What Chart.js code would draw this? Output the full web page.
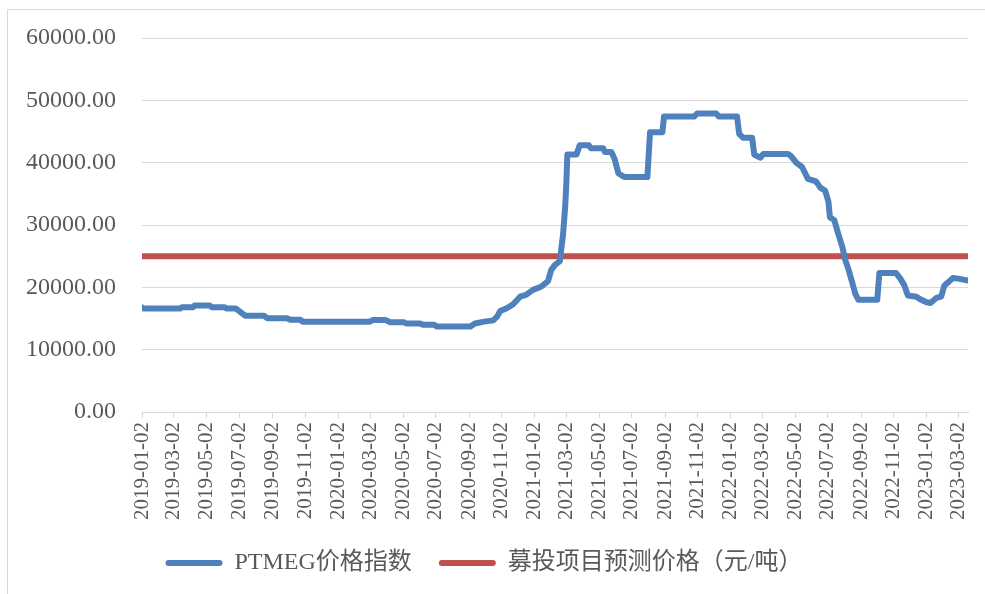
<!DOCTYPE html>
<html>
<head>
<meta charset="utf-8">
<title>PTMEG价格指数</title>
<script src="https://cdn.jsdelivr.net/npm/chart.js@4/dist/chart.umd.min.js"></script>
<style>
  body { margin: 0; background: #ffffff; }
  #chart { display: block; }
</style>
</head>
<body>
<canvas id="chart" width="985" height="594"></canvas>
<script>
'use strict'

// ************* Data ****************
let priceDates = [
  '2019-01-02', '2019-01-06', '2019-03-14', '2019-03-17', '2019-04-07', '2019-04-10',
  '2019-05-08', '2019-05-12', '2019-06-05', '2019-06-09', '2019-06-26', '2019-07-13',
  '2019-08-17', '2019-08-23', '2019-09-29', '2019-10-05', '2019-10-24', '2019-10-28',
  '2020-03-01', '2020-03-07', '2020-03-31', '2020-04-08', '2020-05-04', '2020-05-08',
  '2020-06-03', '2020-06-08', '2020-06-29', '2020-07-04', '2020-09-04', '2020-09-13',
  '2020-09-30', '2020-10-17', '2020-10-24', '2020-10-30', '2020-11-12', '2020-11-23',
  '2020-12-06', '2020-12-17', '2020-12-30', '2021-01-14', '2021-01-27', '2021-02-02',
  '2021-02-09', '2021-02-18', '2021-02-24', '2021-02-28', '2021-03-02', '2021-03-04',
  '2021-03-21', '2021-03-27', '2021-04-13', '2021-04-17', '2021-05-10', '2021-05-13',
  '2021-05-25', '2021-05-31', '2021-06-07', '2021-06-18', '2021-07-31', '2021-08-05',
  '2021-08-28', '2021-08-31', '2021-10-26', '2021-11-01', '2021-12-06', '2021-12-11',
  '2022-01-14', '2022-01-18', '2022-01-25', '2022-02-11', '2022-02-15', '2022-02-26',
  '2022-03-04', '2022-04-19', '2022-04-25', '2022-05-04', '2022-05-15', '2022-05-26',
  '2022-06-10', '2022-06-18', '2022-06-27', '2022-07-03', '2022-07-06', '2022-07-14',
  '2022-07-21', '2022-07-29', '2022-08-03', '2022-08-09', '2022-08-16', '2022-08-22',
  '2022-08-28', '2022-10-02', '2022-10-06', '2022-11-06', '2022-11-14', '2022-11-21',
  '2022-11-28', '2022-12-14', '2022-12-21', '2023-01-02', '2023-01-09', '2023-01-20',
  '2023-01-29', '2023-02-04', '2023-02-11', '2023-02-20', '2023-03-02', '2023-03-20'
];

let priceValues = [
  16800, 16600, 16600, 16800, 16800, 17100,
  17100, 16800, 16800, 16600, 16600, 15450,
  15450, 15050, 15050, 14800, 14800, 14500,
  14500, 14750, 14750, 14400, 14400, 14200,
  14200, 14000, 14000, 13700, 13700, 14200,
  14500, 14700, 15300, 16200, 16700, 17300,
  18500, 18800, 19600, 20100, 21000, 22800,
  23600, 24200, 28500, 33000, 36500, 41300,
  41300, 42800, 42800, 42300, 42300, 41700,
  41700, 40600, 38300, 37700, 37700, 44900,
  44900, 47400, 47400, 47900, 47900, 47400,
  47400, 44600, 44000, 44000, 41300, 40800,
  41400, 41400, 41000, 40000, 39300, 37400,
  37000, 36000, 35500, 33800, 31200, 30800,
  28700, 26500, 24500, 23000, 20900, 19000,
  18000, 18000, 22300, 22300, 21400, 20400,
  18700, 18500, 18100, 17600, 17500, 18300,
  18500, 20300, 20800, 21500, 21400, 21100
];

let forecastDates = ['2019-01-02', '2023-03-20'];
let forecastValues = [25000, 25000];

let tickDates = [
  '2019-01-02', '2019-03-02', '2019-05-02', '2019-07-02', '2019-09-02', '2019-11-02',
  '2020-01-02', '2020-03-02', '2020-05-02', '2020-07-02', '2020-09-02', '2020-11-02',
  '2021-01-02', '2021-03-02', '2021-05-02', '2021-07-02', '2021-09-02', '2021-11-02',
  '2022-01-02', '2022-03-02', '2022-05-02', '2022-07-02', '2022-09-02', '2022-11-02',
  '2023-01-02', '2023-03-02'
];

let yTicks = [0, 10000, 20000, 30000, 40000, 50000, 60000];

let seriesNames = ['PTMEG价格指数', '募投项目预测价格（元/吨）'];


// ************ Helper Functions **********
let startTime = Date.UTC(2019, 0, 2);

function dayOf(str) {
  let parts = str.split('-');
  let t = Date.UTC(+parts[0], +parts[1] - 1, +parts[2]);
  return Math.round((t - startTime) / 86400000);
}

function toPoints(dates, values) {
  let pts = [];
  for (let i = 0; i < dates.length; i++) {
    pts.push({ x: dayOf(dates[i]), y: values[i] });
  }
  return pts;
}

let tickDays = tickDates.map(dayOf);

// frame round the whole picture
let framePlugin = {
  id: 'frame',
  beforeDraw(chart) {
    let ctx = chart.ctx;
    ctx.save();
    ctx.fillStyle = '#ffffff';
    ctx.fillRect(0, 0, chart.width, chart.height);
    ctx.strokeStyle = '#d9d9d9';
    ctx.lineWidth = 1;
    ctx.strokeRect(7.5, 9.5, chart.width + 10, chart.height + 10);
    ctx.restore();
  }
};

let serif = "'Liberation Serif', 'Times New Roman', 'Noto Sans CJK SC', serif";
let gray = '#595959';


// *************** chart ****************
let chartEl = document.getElementById('chart');

let myChart = new Chart(chartEl, {
  type: 'line',
  data: {
    datasets: [{
      label: seriesNames[0],
      data: toPoints(priceDates, priceValues),
      borderColor: '#4f81bd',
      backgroundColor: '#4f81bd',
      borderWidth: 6,
      borderJoinStyle: 'round',
      borderCapStyle: 'round',
      pointRadius: 0,
      tension: 0
    }, {
      label: seriesNames[1],
      data: toPoints(forecastDates, forecastValues),
      borderColor: '#c0504d',
      backgroundColor: '#c0504d',
      borderWidth: 6,
      pointRadius: 0,
      tension: 0
    }]
  },
  options: {
    responsive: false,
    animation: false,
    layout: {
      padding: { left: 0, top: 38, right: 17, bottom: 9 }
    },
    scales: {
      x: {
        type: 'linear',
        min: 0,
        max: dayOf(forecastDates[1]),
        afterBuildTicks(scale) {
          scale.ticks = tickDays.map(d => ({ value: d }));
        },
        afterFit(scale) {
          // last label is not at the edge, no extra room needed
          scale.paddingRight = 0;
          scale.paddingLeft = 0;
        },
        ticks: {
          autoSkip: false,
          minRotation: 90,
          maxRotation: 90,
          padding: 4,
          color: gray,
          font: { family: serif, size: 21 },
          callback(value) {
            let i = tickDays.indexOf(value);
            return i >= 0 ? tickDates[i] : '';
          }
        },
        grid: {
          drawOnChartArea: false,
          color: '#d9d9d9',
          tickLength: 6
        },
        border: { color: '#d9d9d9', width: 1 }
      },
      y: {
        min: 0,
        max: 60000,
        afterBuildTicks(scale) {
          scale.ticks = yTicks.map(v => ({ value: v }));
        },
        afterFit(scale) {
          scale.paddingTop = 0;
          scale.paddingBottom = 0;
        },
        ticks: {
          padding: 26,
          color: gray,
          font: { family: serif, size: 24 },
          callback(value) {
            return value.toFixed(2);
          }
        },
        grid: {
          color: '#d9d9d9',
          drawTicks: false
        },
        border: { display: false }
      }
    },
    plugins: {
      legend: {
        position: 'bottom',
        labels: {
          color: gray,
          font: { family: serif, size: 24 },
          boxWidth: 57,
          boxHeight: 6,
          padding: 27,
          useBorderRadius: true,
          borderRadius: 3,
          generateLabels(chart) {
            return chart.data.datasets.map((ds, i) => ({
              text: ds.label,
              fillStyle: ds.borderColor,
              strokeStyle: ds.borderColor,
              lineWidth: 0,
              fontColor: gray,
              hidden: false,
              datasetIndex: i,
              borderRadius: 3
            }));
          }
        }
      },
      tooltip: { enabled: false }
    }
  },
  plugins: [framePlugin]
});
</script>
</body>
</html>
